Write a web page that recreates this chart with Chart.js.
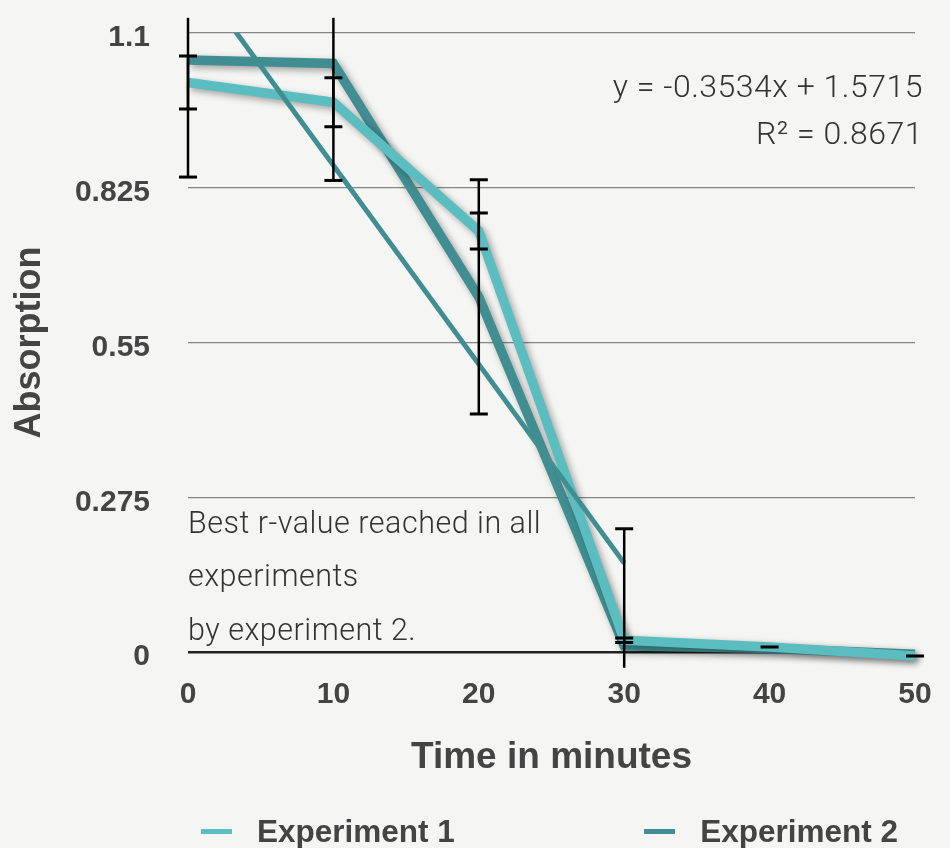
<!DOCTYPE html>
<html>
<head>
<meta charset="utf-8">
<title>Absorption over time</title>
<script src="https://cdn.jsdelivr.net/npm/chart.js@4/dist/chart.umd.min.js"></script>
<style>
  html, body { margin: 0; padding: 0; background: #f5f5f4; }
  #wrap { position: relative; width: 950px; height: 848px; overflow: hidden; }
  #legend {
    position: absolute; left: 201px; width: 697px; top: 810px; height: 42px;
    display: flex; justify-content: space-between; align-items: center;
    font: bold 31.5px "Liberation Sans", Arial, sans-serif; color: #444;
  }
  .item { display: flex; align-items: center; }
  .swatch { width: 31px; height: 5px; margin-right: 25px; }
</style>
</head>
<body>
<div id="wrap">
  <canvas id="chart" width="950" height="848"></canvas>
  <div id="legend"></div>
</div>
<script>
// measurements (minutes / absorption)
const times = [0, 10, 20, 30, 40, 50];
const exp1 = [1.012, 0.977, 0.748, 0.021, 0.009, -0.007];
const exp2 = [1.052, 1.046, 0.631, 0.011, 0.006, -0.004];
const exp1Err = [0.047, 0.0435, 0.032, 0.004, 0, 0];
const exp2Err = [0.208, 0.208, 0.208, 0.208, null, null];

// linear fit of experiment 2 (x = point number, starting at 1)
const trendSlope = -0.3534;
const trendIntercept = 1.5715;
const trendR2 = 0.8671;
const trendTimes = [0, 30];

const yTicks = [0, 0.275, 0.55, 0.825, 1.1];
const noteLines = ['Best r-value reached in all', 'experiments', 'by experiment 2.'];

const COLOR1 = '#5bbdbf';
const COLOR2 = '#408e92';
const BOLD = '"Liberation Sans", Arial, sans-serif';
const LIGHT = 'Roboto, "Liberation Sans", sans-serif';

const toPoints = (ys) => times.map((t, i) => ({ x: t, y: ys[i] }));
const trendPoints = trendTimes.map((t) => ({
  x: t,
  y: trendSlope * (t / 10 + 1) + trendIntercept,
}));

// soft drop shadow under the experiment lines
const shadowPlugin = {
  id: 'lineShadow',
  beforeDatasetDraw(chart, args) {
    const ds = chart.data.datasets[args.index];
    chart.ctx.save();
    if (ds.shadow) {
      chart.ctx.shadowColor = 'rgba(0,0,0,0.35)';
      chart.ctx.shadowBlur = 7;
      chart.ctx.shadowOffsetX = 3;
      chart.ctx.shadowOffsetY = 3;
    }
  },
  afterDatasetDraw(chart) {
    chart.ctx.restore();
  },
};

// vertical error bars with caps, cut off a little outside the plot
const errorBarPlugin = {
  id: 'errorBars',
  afterDatasetsDraw(chart) {
    const { ctx, scales } = chart;
    const yMax = scales.y.getPixelForValue(1.127);
    const yMin = scales.y.getPixelForValue(-0.028);
    ctx.save();
    ctx.strokeStyle = '#000';
    chart.data.datasets.forEach((ds) => {
      if (!ds.errors) return;
      ds.data.forEach((p, i) => {
        const err = ds.errors[i];
        if (err === null || err === undefined) return;
        const x = scales.x.getPixelForValue(p.x);
        let top = scales.y.getPixelForValue(p.y + err);
        let bottom = scales.y.getPixelForValue(p.y - err);
        const capTop = top >= yMax;
        const capBottom = bottom <= yMin;
        top = Math.max(top, yMax);
        bottom = Math.min(bottom, yMin);
        ctx.lineWidth = 2.5;
        ctx.beginPath();
        ctx.moveTo(x, top);
        ctx.lineTo(x, bottom);
        ctx.stroke();
        ctx.lineWidth = 3;
        ctx.beginPath();
        if (capTop) { ctx.moveTo(x - 9, top); ctx.lineTo(x + 9, top); }
        if (capBottom) { ctx.moveTo(x - 9, bottom); ctx.lineTo(x + 9, bottom); }
        ctx.stroke();
      });
    });
    ctx.restore();
  },
};

// note text and the fit equation
const textPlugin = {
  id: 'notes',
  beforeDatasetsDraw(chart) {
    const { ctx, chartArea, scales } = chart;
    ctx.save();
    ctx.fillStyle = '#333';
    ctx.textBaseline = 'middle';
    ctx.textAlign = 'left';
    ctx.font = '300 30.5px ' + LIGHT;
    ctx.letterSpacing = '0.5px';
    const noteTop = scales.y.getPixelForValue(0.275) + 28;
    noteLines.forEach((line, i) => {
      ctx.fillText(line, scales.x.getPixelForValue(0), noteTop + i * 53.5);
    });
    ctx.textAlign = 'right';
    ctx.font = '300 32px ' + LIGHT;
    const eqX = chartArea.right + 8;
    const sign = trendIntercept < 0 ? '-' : '+';
    ctx.fillText('y = ' + trendSlope.toFixed(4) + 'x ' + sign + ' ' + Math.abs(trendIntercept).toFixed(4),
      eqX, chartArea.top + 56);
    ctx.fillText('R\u00b2 = ' + trendR2.toFixed(4), eqX, chartArea.top + 103);
    ctx.restore();
  },
};

const chart = new Chart(document.getElementById('chart'), {
  type: 'line',
  data: {
    datasets: [
      {
        label: 'Experiment 1',
        data: toPoints(exp1),
        errors: exp1Err,
        borderColor: COLOR1,
        backgroundColor: COLOR1,
        borderWidth: 9.5,
        pointRadius: 0,
        tension: 0,
        shadow: true,
        clip: 20,
        order: 1,
      },
      {
        label: 'Experiment 2',
        data: toPoints(exp2),
        errors: exp2Err,
        borderColor: COLOR2,
        backgroundColor: COLOR2,
        borderWidth: 9.5,
        pointRadius: 0,
        tension: 0,
        shadow: true,
        clip: 20,
        order: 2,
      },
      {
        label: 'trend',
        data: trendPoints,
        borderColor: COLOR2,
        borderWidth: 5,
        pointRadius: 0,
        borderCapStyle: 'butt',
        order: 0,
      },
    ],
  },
  options: {
    responsive: false,
    animation: false,
    layout: { padding: { top: 33, right: 35, bottom: 68, left: 0 } },
    plugins: {
      legend: { display: false },
      tooltip: { enabled: false },
    },
    scales: {
      x: {
        type: 'linear',
        min: 0,
        max: 50,
        grid: { display: false },
        border: { display: false },
        ticks: {
          stepSize: 10,
          padding: 17,
          color: '#444',
          font: { family: BOLD, size: 30, weight: 'bold' },
        },
        title: {
          display: true,
          text: 'Time in minutes',
          color: '#444',
          padding: { top: 0, bottom: 0 },
          font: { family: BOLD, size: 37, weight: 'bold' },
        },
        afterFit(scale) { scale.height = 128; },
      },
      y: {
        min: 0,
        max: 1.1,
        afterBuildTicks(scale) { scale.ticks = yTicks.map((v) => ({ value: v })); },
        grid: {
          drawTicks: false,
          color: (c) => (c.tick && c.tick.value === 0 ? '#222' : '#858585'),
          lineWidth: (c) => (c.tick && c.tick.value === 0 ? 2.5 : 1.2),
        },
        border: { display: false },
        ticks: {
          padding: 38,
          labelOffset: 5,
          color: '#444',
          font: { family: BOLD, size: 30, weight: 'bold' },
          callback: (v) => String(v),
        },
        title: {
          display: true,
          text: 'Absorption',
          color: '#444',
          padding: { top: 8, bottom: 0 },
          font: { family: BOLD, size: 36, weight: 'bold' },
        },
        afterFit(scale) {
          scale.width = 188;
          // the tick padding only pushes labels sideways here
          scale.paddingTop = 16;
          scale.paddingBottom = 16;
        },
      },
    },
  },
  plugins: [shadowPlugin, errorBarPlugin, textPlugin],
});

// legend for the two experiments
const legend = document.getElementById('legend');
chart.data.datasets.filter((ds) => ds.errors).forEach((ds) => {
  const item = document.createElement('div');
  item.className = 'item';
  const sw = document.createElement('span');
  sw.className = 'swatch';
  sw.style.background = ds.borderColor;
  const txt = document.createElement('span');
  txt.textContent = ds.label;
  item.appendChild(sw);
  item.appendChild(txt);
  legend.appendChild(item);
});
</script>
</body>
</html>
